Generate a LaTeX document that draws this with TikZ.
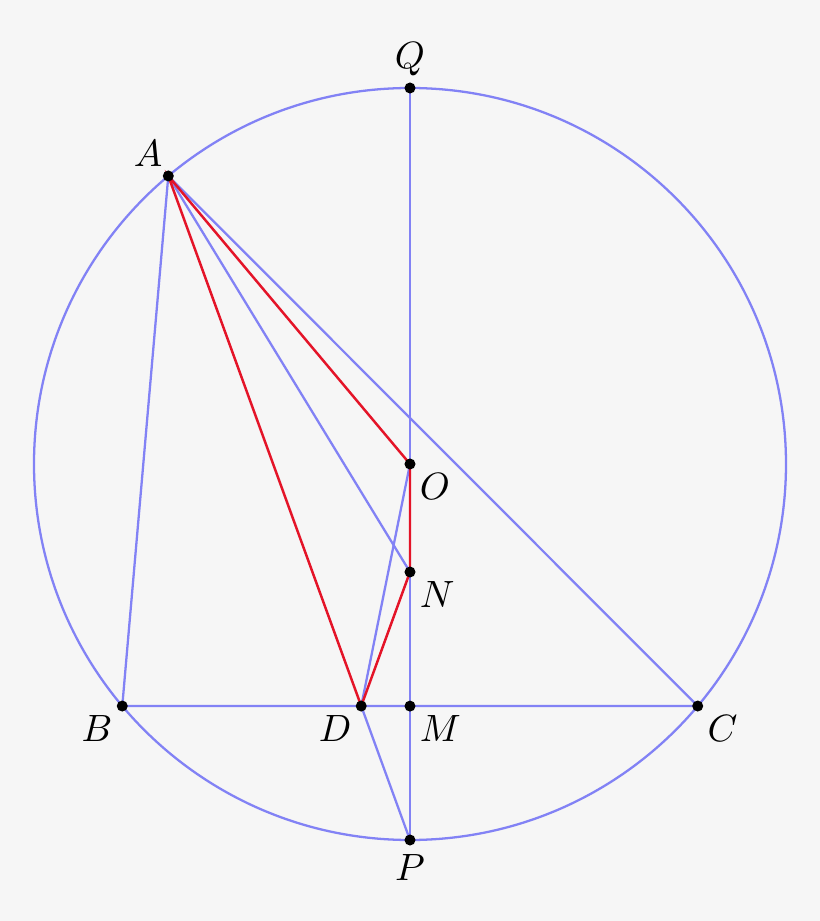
\documentclass[tikz,border=0pt]{standalone}
\usepackage{tikz}
\usepackage{amsmath}
\usetikzlibrary{calc}
\definecolor{bgcol}{RGB}{246,246,246}
\definecolor{lineblue}{RGB}{130,130,245}
\definecolor{linered}{RGB}{228,20,40}

\begin{document}
\begin{tikzpicture}[
    x=0.263pt, y=0.263pt,
    blueline/.style={draw=lineblue, line width=0.6pt},
    redline/.style={draw=linered, line width=0.65pt},
    dot/.style={circle, fill=black, inner sep=0pt, minimum size=2.9pt},
    every label/.style={label distance=-3pt}
]
    \fill[bgcol] (-410,-457) rectangle (410,464);
    \useasboundingbox (-410,-457) rectangle (410,464);

    % points
    \coordinate (O) at (0,0);
    \coordinate (A) at (130:376);
    \coordinate (B) at (220.07:376);
    \coordinate (C) at (-40.07:376);
    \coordinate (P) at (-90:376);
    \coordinate (Q) at (90:376);
    \coordinate (M) at (intersection of B--C and Q--P);
    \coordinate (D) at (intersection of A--P and B--C);
    \coordinate (N) at (0,-108);

    % circle and blue lines
    \draw[blueline] (O) circle (376);
    \draw[blueline] (A) -- (B) -- (C) -- cycle;
    \draw[blueline] (Q) -- (P);
    \draw[blueline] (A) -- (N);
    \draw[blueline] (O) -- (D) -- (P);

    % red quadrilateral
    \draw[redline] (A) -- (O) -- (N) -- (D) -- cycle;

    % dots and labels
    \node[dot, label={[label distance=-2pt]above:$Q$}] (dQ) at (Q) {};
    \node[dot, label={[xshift=1pt]above left:$A$}] (dA) at (A) {};
    \node[dot, label={below right:$O$}] (dO) at (O) {};
    \node[dot, label={below right:$N$}] (dN) at (N) {};
    \node[dot, label={below left:$B$}] (dB) at (B) {};
    \node[dot, label={below left:$D$}] (dD) at (D) {};
    \node[dot, label={below right:$M$}] (dM) at (M) {};
    \node[dot, label={below right:$C$}] (dC) at (C) {};
    \node[dot, label={[label distance=-1.3pt]below:$P$}] (dP) at (P) {};
\end{tikzpicture}
\end{document}
